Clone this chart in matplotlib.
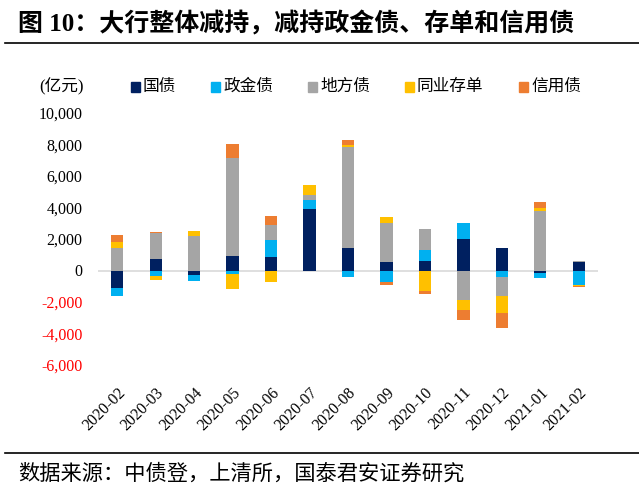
import numpy as np
import matplotlib.pyplot as plt
from matplotlib.lines import Line2D
from matplotlib.patches import Rectangle

months = ["2020-02", "2020-03", "2020-04", "2020-05", "2020-06", "2020-07", "2020-08",
          "2020-09", "2020-10", "2020-11", "2020-12", "2021-01", "2021-02"]

# 亿元
guozhai = [-1100, 700, -280, 910, 870, 3910, 1420, 570, 610, 2000, 1420, -130, 530]
zhengjin = [-550, -380, -360, -230, 1060, 570, -440, -700, 660, 1040, -420, -320, -950]
difang = [1420, 1680, 2170, 6220, 950, 320, 6390, 2440, 1340, -1890, -1210, 3780, 80]
cundan = [380, -250, 320, -930, -750, 610, 150, 360, -1270, -600, -1040, 170, -60]
xinyong = [450, 50, 0, 930, 600, -30, 340, -250, -250, -640, -950, 380, -60]

series = [("国债", guozhai, "#002060"),
          ("政金债", zhengjin, "#00B0F0"),
          ("地方债", difang, "#A5A5A5"),
          ("同业存单", cundan, "#FFC000"),
          ("信用债", xinyong, "#ED7D31")]

cjk = ["Liberation Serif", "Noto Sans CJK SC"]
plt.rcParams["font.family"] = cjk

W, H = 639, 496
fig = plt.figure(figsize=(W / 100, H / 100), dpi=100)
ax = fig.add_axes([98 / W, 1 - 365 / H, 500 / W, 252 / H])

x = np.arange(len(months))
pos_base = np.zeros(len(months))
neg_base = np.zeros(len(months))
for name, vals, color in series:
    v = np.array(vals, dtype=float)
    bottom = np.where(v >= 0, pos_base, neg_base)
    ax.bar(x, v, width=0.32, bottom=bottom, color=color, edgecolor="none", zorder=3)
    pos_base += np.where(v >= 0, v, 0)
    neg_base += np.where(v < 0, v, 0)

yticks = list(range(-6000, 10001, 2000))
ax.set_xlim(-0.5, len(months) - 0.5)
ax.set_ylim(-6000, 10000)
ax.set_yticks(yticks)
ax.set_yticklabels([f"{t:,}" for t in yticks], fontsize=11.5)
for lab, t in zip(ax.get_yticklabels(), yticks):
    if t < 0:
        lab.set_color("red")
ax.set_xticks(x)
ax.set_xticklabels(months, rotation=45, ha="right", rotation_mode="anchor", fontsize=11.5)
ax.tick_params(length=0)
ax.tick_params(axis="y", pad=11)
ax.tick_params(axis="x", pad=14)
for s in ax.spines.values():
    s.set_visible(False)
ax.axhline(0, color="#D9D9D9", lw=1.2, zorder=2)

# legend drawn by hand to match spacing
leg_y = 1 - 87 / H
marker_x = [131, 211, 308, 405, 519]
for (name, _, color), mx in zip(series, marker_x):
    fig.add_artist(Rectangle((mx / W, leg_y - 4.5 / H), 9 / W, 9 / H, color=color, transform=fig.transFigure))
    fig.text((mx + 12) / W, leg_y, name, va="center", ha="left", fontsize=12, family=cjk)
fig.text(39 / W, leg_y, "(亿元)", va="center", ha="left", fontsize=12, family=cjk)

fig.text(18 / W, 1 - 24 / H, "图 10：大行整体减持，减持政金债、存单和信用债", va="center", ha="left",
         fontsize=18, fontweight="bold", family=cjk)
fig.add_artist(Line2D([5 / W, 1], [1 - 43 / H] * 2, color="black", lw=1.2))
fig.add_artist(Line2D([5 / W, 1], [1 - 453 / H] * 2, color="black", lw=1.2))
fig.text(18 / W, 1 - 474 / H, "数据来源：中债登，上清所，国泰君安证券研究", va="center", ha="left",
         fontsize=15.3, family=cjk)

fig.savefig("out.png", dpi=100)
